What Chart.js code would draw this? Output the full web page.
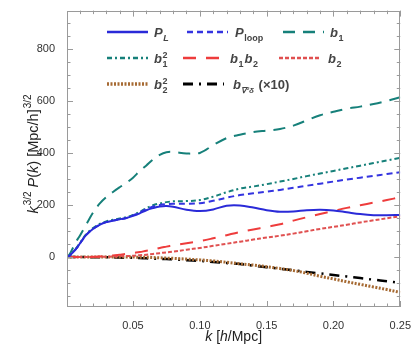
<!DOCTYPE html>
<html>
<head>
<meta charset="utf-8">
<script src="https://cdn.jsdelivr.net/npm/chart.js@4.4.1/dist/chart.umd.min.js"></script>
<style>
  html, body { margin: 0; padding: 0; background: #fff; }
  #wrap { width: 415px; height: 345px; }
</style>
</head>
<body>
<div id="wrap"><canvas id="chart" width="415" height="345"></canvas></div>
<script>
// k grid [h/Mpc]
const ks = [0, 0.0025, 0.005, 0.0075, 0.01, 0.015, 0.02, 0.025, 0.03, 0.035, 0.04, 0.045,
  0.05, 0.055, 0.06, 0.065, 0.07, 0.075, 0.08, 0.09, 0.1, 0.11, 0.12, 0.13, 0.14, 0.15,
  0.16, 0.17, 0.18, 0.19, 0.2, 0.21, 0.22, 0.23, 0.24, 0.25];

// k^{3/2} P(k) for each term
const pLin = [0, 5, 18, 32, 50, 85, 108, 124, 134, 140, 145, 150,
  158, 168, 180, 188, 194, 196, 193, 182, 177, 183, 197, 198, 190, 180,
  174, 175, 180, 182, 179, 172, 165, 161, 161, 162];
const pLoop = [0, 5, 18, 32, 50, 85, 108, 124, 134, 140, 145, 150,
  160, 171, 184, 194, 200, 203, 205, 205, 207, 216, 228, 238, 245, 251,
  258, 266, 274, 282, 290, 298, 305, 312, 319, 326];
const b1 = [0, 10, 35, 60, 80, 125, 170, 205, 230, 250, 268, 285,
  305, 330, 352, 375, 393, 403, 404, 398, 400, 430, 457, 470, 480, 486,
  492, 505, 525, 545, 558, 570, 578, 588, 600, 614];
const b1sq = [0, 5, 19, 34, 52, 88, 111, 127, 137, 143, 148, 153,
  162, 174, 188, 199, 206, 211, 214, 215, 219, 232, 249, 263, 271, 280,
  290, 300, 311, 321, 331, 341, 351, 361, 371, 381];
const b1b2 = [0, 0, 0, 0, 0, 0, 1, 2, 4, 6, 9, 12,
  16, 19, 24, 28, 35, 40, 45, 53, 61, 72, 84, 96, 106, 116,
  126, 140, 153, 165, 177, 189, 199, 209, 219, 230];
const b2 = [0, 0, 0, 0, 0, 0, 0, 1, 1, 2, 3, 4,
  5, 7, 9, 12, 15, 18, 21, 28, 35, 43, 51, 59, 67, 75,
  82, 90, 99, 108, 116, 124, 133, 141, 149, 157];
const b2sq = [0, 0, 0, 0, 0, 0, 0, 0, 0, 0, 0, 0,
  0, -1, -1, -2, -3, -4, -5, -8, -11, -15, -20, -26, -31, -37,
  -44, -52, -62, -74, -84, -95, -105, -115, -125, -136];
const bNabla = [0, 0, 0, 0, 0, 0, -1, -1, -1, -2, -2, -3,
  -3, -4, -5, -6, -7, -8, -9, -12, -15, -19, -23, -27, -33, -39,
  -45, -51, -57, -63, -69, -75, -81, -87, -93, -99];

const xTicks = [0.05, 0.10, 0.15, 0.20, 0.25];
const yTicks = [0, 200, 400, 600, 800];

const FONT = '"Liberation Sans", Arial, sans-serif';
Chart.defaults.font.family = FONT;

const series = [
  { key: "pL", data: pLin, color: "#2a2ad8", dash: [], width: 2 },
  { key: "pLoop", data: pLoop, color: "#3434e0", dash: [6, 4], width: 2 },
  { key: "b1", data: b1, color: "#16807a", dash: [12, 8], width: 2 },
  { key: "b1sq", data: b1sq, color: "#16807a", dash: [5, 3, 2, 3], width: 2 },
  { key: "b1b2", data: b1b2, color: "#ee3c3c", dash: [13, 10], width: 2 },
  { key: "b2", data: b2, color: "#e05050", dash: [4, 2], width: 2 },
  { key: "b2sq", data: b2sq, color: "#a66a33", dash: [2, 1.5], width: 3 },
  { key: "bNabla", data: bNabla, color: "#000000", dash: [10, 6, 2, 6], width: 2.5 },
];

// legend: label parts, sample x, text x, row y
const legendItems = [
  { s: 0, x: 107, tx: 154, y: 32, parts: [{ t: "P", i: 1 }, { sub: "L", si: 1 }] },
  { s: 1, x: 187, tx: 235, y: 32, parts: [{ t: "P", i: 1 }, { sub: "loop" }] },
  { s: 2, x: 283, tx: 330, y: 32, parts: [{ t: "b", i: 1 }, { sub: "1" }] },
  { s: 3, x: 107, tx: 154, y: 58, parts: [{ t: "b", i: 1 }, { sub: "1", sup: "2" }] },
  { s: 4, x: 183, tx: 230, y: 58, parts: [{ t: "b", i: 1 }, { sub: "1" }, { t: "b", i: 1 }, { sub: "2" }] },
  { s: 5, x: 279, tx: 328, y: 58, parts: [{ t: "b", i: 1 }, { sub: "2" }] },
  { s: 6, x: 107, tx: 154, y: 84, parts: [{ t: "b", i: 1 }, { sub: "2", sup: "2" }] },
  { s: 7, x: 183, tx: 233, y: 84, parts: [{ t: "b", i: 1 }, { sub: "\u2207\u00b2\u03b4", si: 1, small: 1 }, { t: " (\u00d710)" }] },
];

// draw text with simple sub/superscripts
function rich(ctx, parts, x, y, size, weight, draw) {
  let cx = x;
  const f = (sz, it) => `${it ? "italic " : ""}${weight} ${sz}px ${FONT}`;
  for (const p of parts) {
    if (p.t !== undefined) {
      ctx.font = f(size, p.i);
      if (draw) ctx.fillText(p.t, cx, y + (p.dy || 0));
      cx += ctx.measureText(p.t).width;
    } else {
      const ss = Math.round(size * (p.small ? 0.62 : 0.72));
      let w = 0;
      ctx.font = f(ss, p.si);
      if (p.sub !== undefined) {
        if (draw) ctx.fillText(p.sub, cx + 0.5, y + size * 0.28);
        w = Math.max(w, ctx.measureText(p.sub).width);
      }
      ctx.font = f(ss, p.pi);
      if (p.sup !== undefined) {
        if (draw) ctx.fillText(p.sup, cx + 0.5, y - size * 0.42);
        w = Math.max(w, ctx.measureText(p.sup).width);
      }
      cx += w + 1.5;
    }
  }
  return cx - x;
}

const framePlugin = {
  id: "frame",
  afterDraw(chart) {
    const { ctx, chartArea: a, scales } = chart;
    const xs = scales.x, ys = scales.y;
    ctx.save();
    // frame
    ctx.strokeStyle = "#9a9a9a";
    ctx.lineWidth = 1;
    ctx.strokeRect(Math.round(a.left) + 0.5, Math.round(a.top) + 0.5,
      Math.round(a.right - a.left) - 1, Math.round(a.bottom - a.top) - 1);
    // inward ticks
    ctx.beginPath();
    for (let i = 1; i <= 25; i++) {
      const v = i / 100;
      const px = Math.round(xs.getPixelForValue(v)) + 0.5;
      const len = i % 5 === 0 ? 6 : 3.5;
      ctx.moveTo(px, a.bottom); ctx.lineTo(px, a.bottom - len);
      ctx.moveTo(px, a.top); ctx.lineTo(px, a.top + len);
    }
    for (let v = -150; v <= 900; v += 50) {
      const py = Math.round(ys.getPixelForValue(v)) + 0.5;
      const len = v % 200 === 0 ? 6 : 3.5;
      ctx.moveTo(a.left, py); ctx.lineTo(a.left + len, py);
      ctx.moveTo(a.right, py); ctx.lineTo(a.right - len, py);
    }
    ctx.stroke();

    // legend
    for (const it of legendItems) {
      const s = series[it.s];
      ctx.beginPath();
      ctx.strokeStyle = s.color;
      ctx.lineWidth = s.width + 0.5;
      ctx.setLineDash(s.dash);
      ctx.moveTo(it.x, it.y); ctx.lineTo(it.x + 41, it.y);
      ctx.stroke();
      ctx.setLineDash([]);
      ctx.fillStyle = "#444";
      ctx.textBaseline = "alphabetic";
      ctx.textAlign = "left";
      rich(ctx, it.parts, it.tx, it.y + 5, 13, "bold", true);
    }

    // axis titles
    ctx.fillStyle = "#222";
    const xt = [{ t: "k", i: 1 }, { t: " [" }, { t: "h", i: 1 }, { t: "/Mpc]" }];
    const xw = rich(ctx, xt, 0, 0, 14, "", false);
    rich(ctx, xt, (a.left + a.right) / 2 - xw / 2, 341, 14, "", true);

    const yt = [{ t: "k", i: 1 }, { t: "3/2", dy: -7, small: 1 }, { t: " " }, { t: "P", i: 1 }, { t: "(" },
      { t: "k", i: 1 }, { t: ") [Mpc/h]" }, { t: "3/2", dy: -7, small: 1 }];
    const sizeOf = (p) => p;
    ctx.translate(38, 154);
    ctx.rotate(-Math.PI / 2);
    // superscripts drawn smaller
    let total = 0;
    for (const p of yt) {
      ctx.font = `${p.i ? "italic " : ""}${p.small ? 10 : 14.5}px ${FONT}`;
      total += ctx.measureText(p.t).width + (p.small ? 1 : 0);
    }
    let cx = -total / 2;
    for (const p of yt) {
      ctx.font = `${p.i ? "italic " : ""}${p.small ? 10 : 14.5}px ${FONT}`;
      ctx.fillText(p.t, cx + (p.small ? 1 : 0), p.dy || 0);
      cx += ctx.measureText(p.t).width + (p.small ? 1 : 0);
    }
    ctx.restore();
  },
};

new Chart(document.getElementById("chart").getContext("2d"), {
  type: "line",
  data: {
    datasets: series.map((s) => ({
      label: s.key,
      data: ks.map((k, i) => ({ x: k, y: s.data[i] })),
      borderColor: s.color,
      borderDash: s.dash,
      borderWidth: s.width,
      pointRadius: 0,
      fill: false,
      tension: 0.35,
    })),
  },
  options: {
    responsive: false,
    animation: false,
    devicePixelRatio: 1,
    layout: { padding: { top: 5, right: 12, left: 0, bottom: 0 } },
    plugins: { legend: { display: false }, tooltip: { enabled: false } },
    scales: {
      x: {
        type: "linear",
        min: 0.0006,
        max: 0.25,
        afterFit: (s) => { s.height = 38; },
        afterBuildTicks: (s) => { s.ticks = xTicks.map((v) => ({ value: v })); },
        grid: { display: false },
        border: { display: false },
        ticks: {
          padding: 4,
          color: "#333",
          font: { size: 11 },
          maxRotation: 0,
          callback: (v) => Number(v).toFixed(2),
        },
      },
      y: {
        type: "linear",
        min: -192,
        max: 947,
        afterFit: (s) => { s.width = 67; },
        afterBuildTicks: (s) => { s.ticks = yTicks.map((v) => ({ value: v })); },
        grid: { display: false },
        border: { display: false },
        ticks: {
          padding: 4,
          color: "#333",
          font: { size: 11 },
          callback: (v) => String(v),
        },
      },
    },
  },
  plugins: [framePlugin],
});
</script>
</body>
</html>
